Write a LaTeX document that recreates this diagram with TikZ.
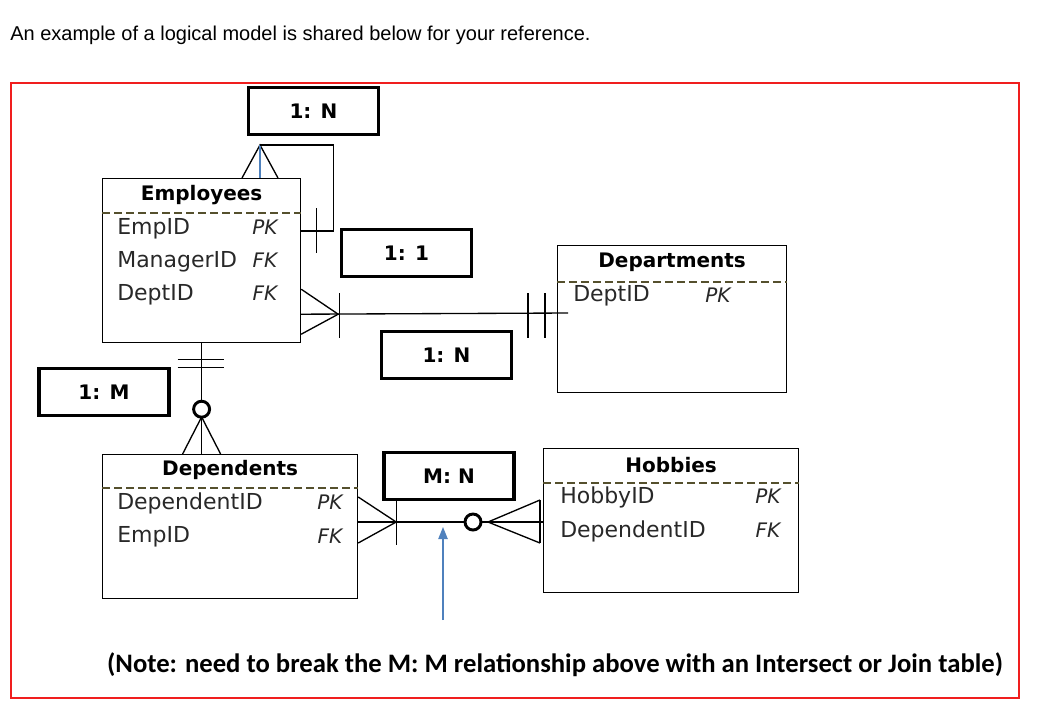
\documentclass[tikz,border=0pt]{standalone}
\usepackage{fontspec}
\setmainfont{DejaVu Sans}
\newfontfamily\notefont{Carlito}
\newfontfamily\introfont{Liberation Sans}
\usepackage{tikz}
\usetikzlibrary{arrows.meta,positioning,calc}
\definecolor{pointille}{RGB}{85,80,45}
\definecolor{bleu}{RGB}{79,129,189}
\definecolor{rouge}{RGB}{240,30,30}
\definecolor{encre}{RGB}{40,40,40}

\tikzset{
	entite/.style={draw,line width=0.9pt,inner sep=0pt,anchor=north west},
	trait/.style={pointille,line width=1.6pt,dash pattern=on 6pt off 3pt},
	titre/.style={font=\bfseries\fontsize{15}{18}\selectfont},
	attr/.style={anchor=west,text=encre,inner sep=0pt,font=\fontsize{16.5}{20}\selectfont},
	cle/.style={text=encre,inner sep=0pt,font=\itshape\fontsize{15}{18}\selectfont},
	card/.style={draw,line width=2.4pt,minimum width=97.5pt,minimum height=35pt,font=\bfseries\fontsize{15}{18}\selectfont},
	lien/.style={line width=1pt},
	rond/.style={circle,draw,line width=2.2pt,fill=white,minimum size=12pt,inner sep=0pt},
}

\begin{document}
\begin{tikzpicture}[x=0.75pt,y=-0.75pt]
	\useasboundingbox (0,0) rectangle (1062,708);
	%% texte d'introduction
	\node[anchor=west,inner sep=0pt,font=\introfont\fontsize{15}{18}\selectfont] (intro) at (10,35) {An example of a logical model is shared below for your reference.};
	%% cadre rouge
	\draw[rouge,line width=1.2pt] (11,83) rectangle (1019,698);
	
	%% Employees
	\node[entite,minimum width=148.5pt,minimum height=123pt] (emp) at (102,178) {};
	\node[titre] (emp-t) at ($(emp.north)+(0,17)$) {Employees};
	\draw[trait] ($(emp.north west)+(0,35)$) -- ($(emp.north east)+(0,35)$);
	\node[attr] (emp-a1) at (117,229) {EmpID};
	\node[attr] (emp-a2) at (117,262) {ManagerID};
	\node[attr] (emp-a3) at (117,295) {DeptID};
	\node[cle] (emp-k1) at (265,227) {PK};
	\node[cle] (emp-k2) at (265,260) {FK};
	\node[cle] (emp-k3) at (265,293) {FK};
	
	%% Departments
	\node[entite,minimum width=171.75pt,minimum height=110.25pt] (dept) at (557,245) {};
	\node[titre] (dept-t) at ($(dept.north)+(0,17)$) {Departments};
	\draw[trait] ($(dept.north west)+(0,37)$) -- ($(dept.north east)+(0,37)$);
	\node[attr] (dept-a1) at (573,296) {DeptID};
	\node[cle] (dept-k1) at (718,295) {PK};
	
	%% Dependents
	\node[entite,minimum width=191.25pt,minimum height=108pt] (depn) at (102,454) {};
	\node[titre] (depn-t) at ($(depn.north)+(0,16)$) {Dependents};
	\draw[trait] ($(depn.north west)+(0,34)$) -- ($(depn.north east)+(0,34)$);
	\node[attr] (depn-a1) at (117,503) {DependentID};
	\node[attr] (depn-a2) at (117,537) {EmpID};
	\node[cle] (depn-k1) at (330,502) {PK};
	\node[cle] (depn-k2) at (330,536) {FK};
	
	%% Hobbies
	\node[entite,minimum width=191.25pt,minimum height=108pt] (hob) at (543,448) {};
	\node[titre] (hob-t) at ($(hob.north)+(0,17)$) {Hobbies};
	\draw[trait] ($(hob.north west)+(0,35)$) -- ($(hob.north east)+(0,35)$);
	\node[attr] (hob-a1) at (560,497) {HobbyID};
	\node[attr] (hob-a2) at (560,531) {DependentID};
	\node[cle] (hob-k1) at (768,496) {PK};
	\node[cle] (hob-k2) at (768,530) {FK};
	
	%% auto-association Employees
	\coordinate (boucle) at ($(emp.north west)+(158,-33)$);
	\draw[lien] ($(emp.north west)+(140,0)$) -- (boucle) -- ($(emp.north west)+(176,0)$);
	\draw[bleu,line width=0.9pt] (boucle) -- (boucle |- emp.north);
	\draw[lien] (boucle) -| ($(emp.north east)+(32,53)$) -- ($(emp.north east)+(0,53)$);
	\draw[lien] ($(emp.north east)+(15,30)$) -- ++(0,45);
	
	%% Employees -- Departments
	\coordinate (ed-a) at ($(emp.south east)+(0,-29)$);
	\coordinate (ed-b) at ($(dept.north west)+(11,68)$);
	\draw[lien] (ed-a) -- (ed-b);
	\draw[lien] ($(ed-a)+(0,-25)$) -- ($(ed-a)+(37,0)$) -- ($(ed-a)+(0,20)$);
	\draw[lien] ($(ed-a)+(38,-21)$) -- ++(0,45);
	\foreach \dx in {-29,-12}
		\draw[lien] ($(dept.north west |- ed-a)+(\dx,-21)$) -- ++(0,45);
	
	%% Employees -- Dependents
	\draw[lien] (emp.south) -- (emp.south |- depn.north);
	\foreach \dy in {16,24}
		\draw[lien] ($(emp.south)+(-24,\dy)$) -- ++(46,0);
	\draw[lien] ($(emp.south |- depn.north)+(-19,0)$) -- ($(emp.south |- depn.north)+(0,-37)$) -- ($(emp.south |- depn.north)+(19,0)$);
	\node[rond] (o1) at ($(emp.south)+(0,66)$) {};
	
	%% Dependents -- Hobbies
	\coordinate (dh-a) at ($(depn.north east)+(0,68)$);
	\coordinate (dh-b) at (hob.west |- dh-a);
	\draw[lien] (dh-a) -- (dh-b);
	\draw[lien] ($(dh-a)+(0,-25)$) -- ($(dh-a)+(38,0)$) -- ($(dh-a)+(0,21)$);
	\draw[lien] ($(dh-a)+(38,-22)$) -- ++(0,45);
	\draw[lien] ($(dh-b)+(-3,-22)$) -- ($(dh-b)+(-55,0)$) -- ($(dh-b)+(-3,21)$);
	\draw[lien] ($(dh-b)+(-3,-22)$) -- ++(0,43);
	\node[rond] (o2) at ($(dh-b)+(-70,0)$) {};
	
	%% cardinalites
	\node[card] (r-self) at (313.5,111) {1: N};
	\node[card] (r-11) at (406.5,253) {1: 1};
	\node[card] (r-1n) at (446.5,355) {1: N};
	\node[card] (r-1m) at (104,392) {1: M};
	\node[card] (r-mn) at (449,476) {M: N};
	
	%% fleche bleue et note
	\coordinate (fleche-pied) at (443,620);
	\draw[bleu,line width=1pt,-{Triangle[length=9pt,width=7pt]}] (fleche-pied) -- ($(fleche-pied |- dh-a)+(0,5)$);
	\node[font=\notefont\bfseries\fontsize{20}{24}\selectfont] (note) at (555,665) {(Note: need to break the M: M relationship above with an Intersect or Join table)};
\end{tikzpicture}
\end{document}
